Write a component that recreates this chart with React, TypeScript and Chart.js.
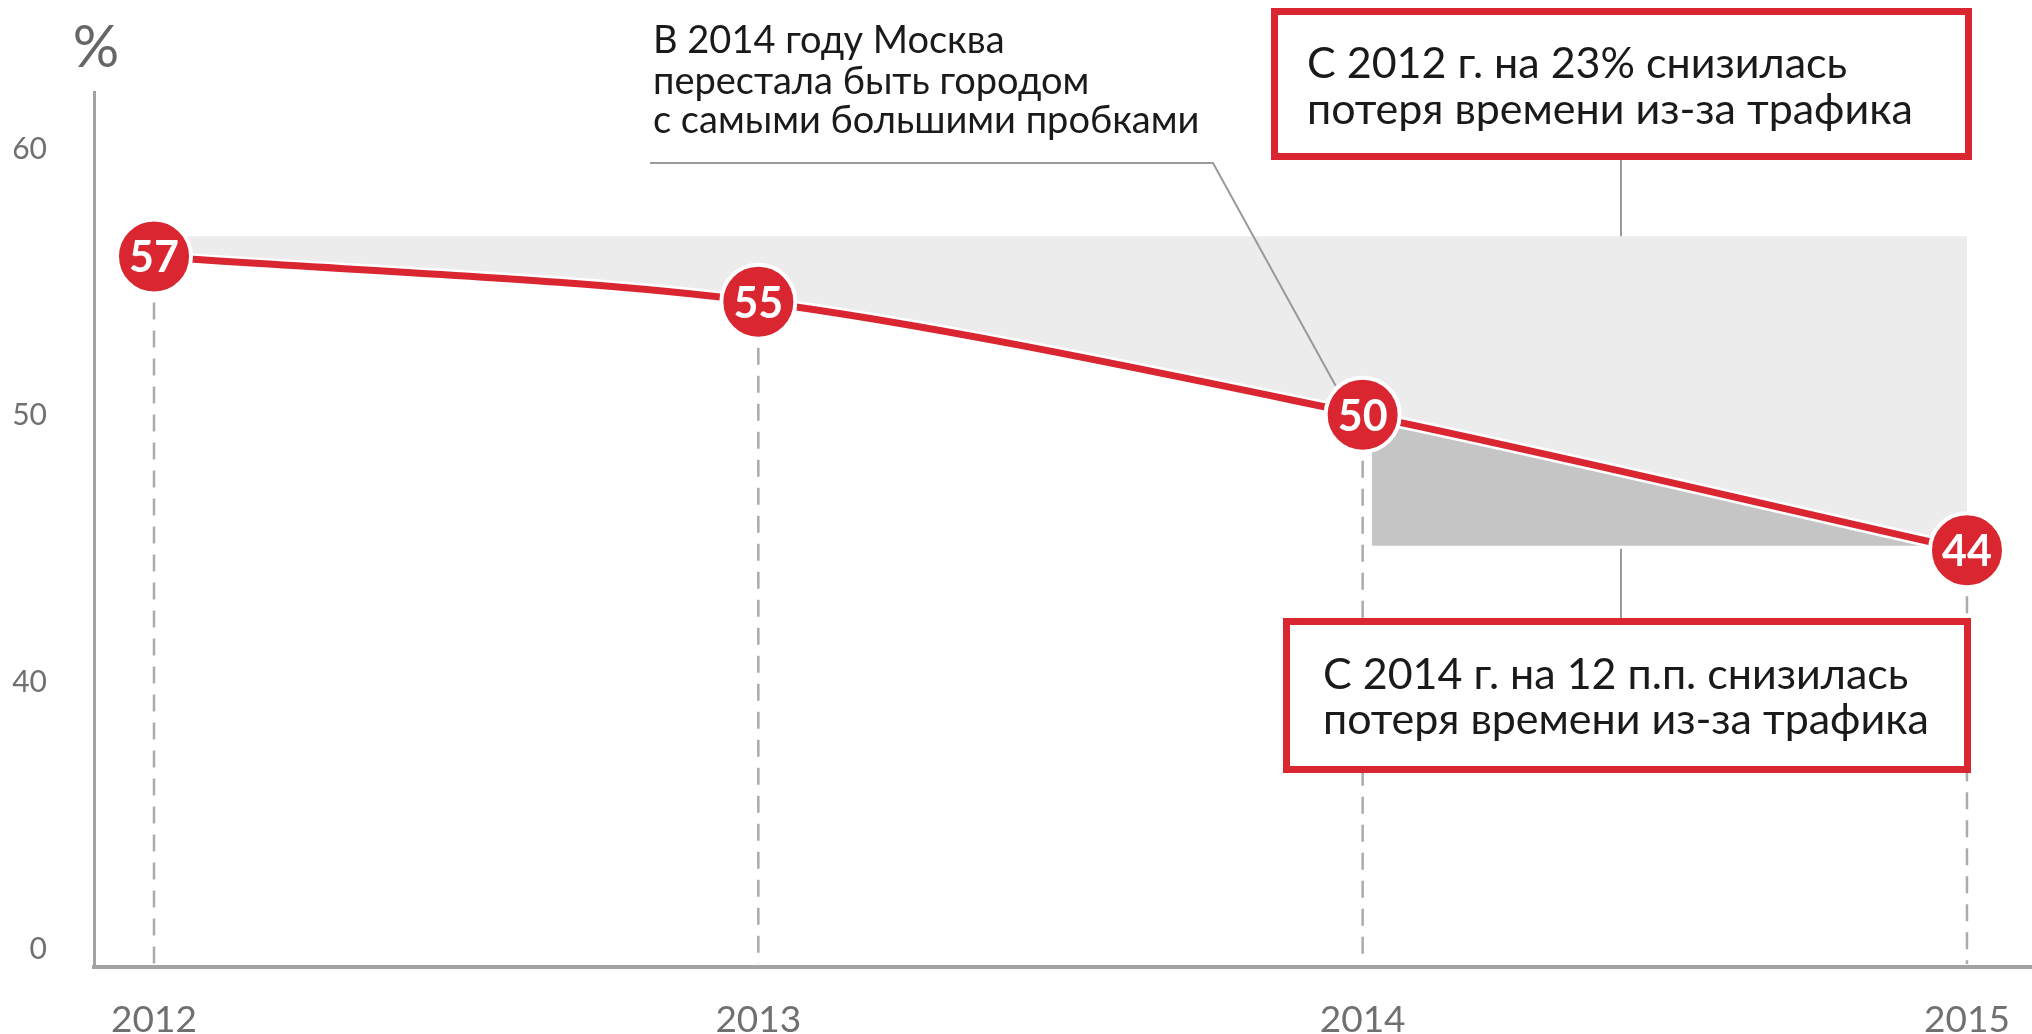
import React, { useEffect, useRef } from 'react';
import { Chart, registerables } from 'chart.js';

Chart.register(...registerables);

// ---- data ----
const years = [2012, 2013, 2014, 2015];
const lossValues = [57, 55, 50, 44];
const yTickValues = [30, 40, 50, 60];
const yTickLabels = ['0', '40', '50', '60'];
const upperBandLevel = 57.9;
const upperBandRange = [2012.055, 2015.008];
const lowerBandLevel = 44.2;
const lowerBandRange = [2014.015, 2015];
const yAxisUnit = '%';
const noteTopLines = ['С 2012 г. на 23% снизилась', 'потеря времени из-за трафика'];
const noteBottomLines = ['С 2014 г. на 12 п.п. снизилась', 'потеря времени из-за трафика'];
const noteMoscowLines = ['В 2014 году Москва', 'перестала быть городом', 'с самыми большими пробками'];

const FAMILY = 'Lato, "Noto Sans", "Open Sans", sans-serif';
const RED = '#d92630';
const AXIS = '#a3a3a3';
const TICK = '#707070';

function drawBox(ctx: CanvasRenderingContext2D, x: number, y: number, w: number, h: number, lines: string[], tx: number, baselines: number[], font: string) {
  const bw = 7;
  ctx.save();
  ctx.fillStyle = '#ffffff';
  ctx.fillRect(x, y, w, h);
  ctx.strokeStyle = RED;
  ctx.lineWidth = bw;
  ctx.strokeRect(x + bw / 2, y + bw / 2, w - bw, h - bw);
  ctx.fillStyle = '#1a1a1a';
  ctx.font = font;
  ctx.textAlign = 'left';
  ctx.textBaseline = 'alphabetic';
  lines.forEach((t, i) => ctx.fillText(t, tx, baselines[i]));
  ctx.restore();
}

export default function App() {
  const ref = useRef<HTMLCanvasElement>(null);

  useEffect(() => {
    const canvas = ref.current!;
    const pts = years.map((x, i) => ({ x, y: lossValues[i] }));

    const overlay = {
      id: 'overlay',
      beforeDatasetsDraw(chart: any) {
        const ctx = chart.ctx as CanvasRenderingContext2D;
        const meta = chart.getDatasetMeta(0);
        const bottom = chart.chartArea.bottom;
        ctx.save();
        ctx.strokeStyle = '#ababab';
        ctx.lineWidth = 2.5;
        ctx.setLineDash([17, 11]);
        meta.data.forEach((p: any) => {
          ctx.beginPath();
          ctx.moveTo(p.x, p.y + 46);
          ctx.lineTo(p.x, bottom - 3);
          ctx.stroke();
        });
        ctx.restore();
      },
      afterDatasetsDraw(chart: any) {
        const ctx = chart.ctx as CanvasRenderingContext2D;
        const meta = chart.getDatasetMeta(0);
        ctx.save();
        ctx.fillStyle = '#ffffff';
        ctx.font = `bold 43px ${FAMILY}`;
        ctx.textAlign = 'center';
        ctx.textBaseline = 'middle';
        meta.data.forEach((p: any, i: number) => {
          ctx.fillText(String(lossValues[i]), p.x, p.y + 2);
        });
        ctx.restore();
      },
      afterDraw(chart: any) {
        const ctx = chart.ctx as CanvasRenderingContext2D;
        const yd = chart.scales.yd;
        const meta = chart.getDatasetMeta(0);
        const p2014 = meta.data[2];

        // % unit label
        ctx.save();
        ctx.fillStyle = '#666666';
        ctx.font = `58px ${FAMILY}`;
        ctx.textAlign = 'center';
        ctx.textBaseline = 'alphabetic';
        ctx.fillText(yAxisUnit, 96, 67);
        ctx.restore();

        // Moscow note + leader
        ctx.save();
        ctx.strokeStyle = '#9a9a9a';
        ctx.lineWidth = 2;
        ctx.beginPath();
        ctx.moveTo(650, 163);
        ctx.lineTo(1213, 163);
        ctx.lineTo(p2014.x - 27, p2014.y - 29);
        ctx.stroke();
        ctx.fillStyle = '#1a1a1a';
        ctx.font = `38px ${FAMILY}`;
        ctx.textAlign = 'left';
        ctx.textBaseline = 'alphabetic';
        const mb = [53, 94, 133];
        noteMoscowLines.forEach((t, i) => ctx.fillText(t, 653, mb[i]));
        ctx.restore();

        // connectors
        const upperY = yd.getPixelForValue(upperBandLevel);
        const lowerY = yd.getPixelForValue(lowerBandLevel);
        ctx.save();
        ctx.strokeStyle = '#9a9a9a';
        ctx.lineWidth = 2;
        ctx.beginPath();
        ctx.moveTo(1621, 160);
        ctx.lineTo(1621, upperY);
        ctx.moveTo(1621, lowerY + 3);
        ctx.lineTo(1621, 618);
        ctx.stroke();
        ctx.restore();

        drawBox(ctx, 1271, 8, 701, 152, noteTopLines, 1307, [78, 124], `43px ${FAMILY}`);
        drawBox(ctx, 1283, 618, 688, 155, noteBottomLines, 1323, [689, 734], `43px ${FAMILY}`);
      },
    };

    const chart = new Chart(canvas, {
      type: 'line',
      data: {
        datasets: [
          {
            label: 'loss',
            data: pts,
            yAxisID: 'yd',
            borderColor: RED,
            borderWidth: 7,
            tension: 0.3,
            fill: false,
            pointRadius: 37,
            pointBorderWidth: 4,
            pointBackgroundColor: RED,
            pointBorderColor: '#ffffff',
          },
          {
            label: 'halo',
            data: pts,
            yAxisID: 'yd',
            borderColor: '#ffffff',
            borderWidth: 12,
            tension: 0.3,
            fill: false,
            pointRadius: 0,
          },
          {
            label: 'upper band',
            data: upperBandRange.map((x) => ({ x, y: upperBandLevel })),
            yAxisID: 'yd',
            borderWidth: 0,
            borderColor: 'rgba(0,0,0,0)',
            backgroundColor: '#ececec',
            pointRadius: 0,
            fill: { target: 0 },
          },
          {
            label: 'lower band',
            data: lowerBandRange.map((x) => ({ x, y: lowerBandLevel })),
            yAxisID: 'yd',
            borderWidth: 0,
            borderColor: 'rgba(0,0,0,0)',
            backgroundColor: '#c5c5c5',
            pointRadius: 0,
            fill: { target: 0 },
          },
        ],
      },
      options: {
        responsive: false,
        devicePixelRatio: 1,
        animation: false,
        events: [],
        layout: { autoPadding: false, padding: { top: 92, left: 0, right: 0, bottom: 0 } },
        plugins: {
          legend: { display: false },
          tooltip: { enabled: false },
          title: { display: false },
        },
        scales: {
          x: {
            type: 'linear',
            position: 'bottom',
            min: 2011.9007,
            max: 2015.1076,
            afterBuildTicks: (a: any) => {
              a.ticks = years.map((v) => ({ value: v }));
            },
            afterFit: (s: any) => {
              s.height = 67;
              s.paddingLeft = 0;
              s.paddingRight = 0;
            },
            grid: { display: false },
            border: { display: true, color: AXIS, width: 4 },
            ticks: {
              padding: 23,
              color: TICK,
              autoSkip: false,
              maxRotation: 0,
              font: { family: FAMILY, size: 37 },
              callback: (v: any) => String(v),
            },
          },
          y: {
            type: 'linear',
            position: 'left',
            min: 29.33,
            max: 62.14,
            afterBuildTicks: (a: any) => {
              a.ticks = yTickValues.map((v) => ({ value: v }));
            },
            afterFit: (s: any) => {
              s.width = 94;
              s.paddingTop = 0;
              s.paddingBottom = 0;
            },
            grid: { display: false },
            border: { display: true, color: AXIS, width: 3 },
            ticks: {
              padding: 39,
              color: TICK,
              font: { family: FAMILY, size: 30 },
              callback: (v: any) => {
                const i = yTickValues.indexOf(v);
                return i >= 0 ? yTickLabels[i] : '';
              },
            },
          },
          yd: {
            type: 'linear',
            display: false,
            min: 25.54,
            max: 64.29,
          },
        },
      },
      plugins: [overlay],
    } as any);

    return () => chart.destroy();
  }, []);

  return (
    <div style={{ position: 'fixed', left: 0, top: 0, width: 2032, height: 1034, background: '#ffffff' }}>
      <canvas ref={ref} width={2032} height={1034} style={{ display: 'block', width: 2032, height: 1034 }} />
    </div>
  );
}
